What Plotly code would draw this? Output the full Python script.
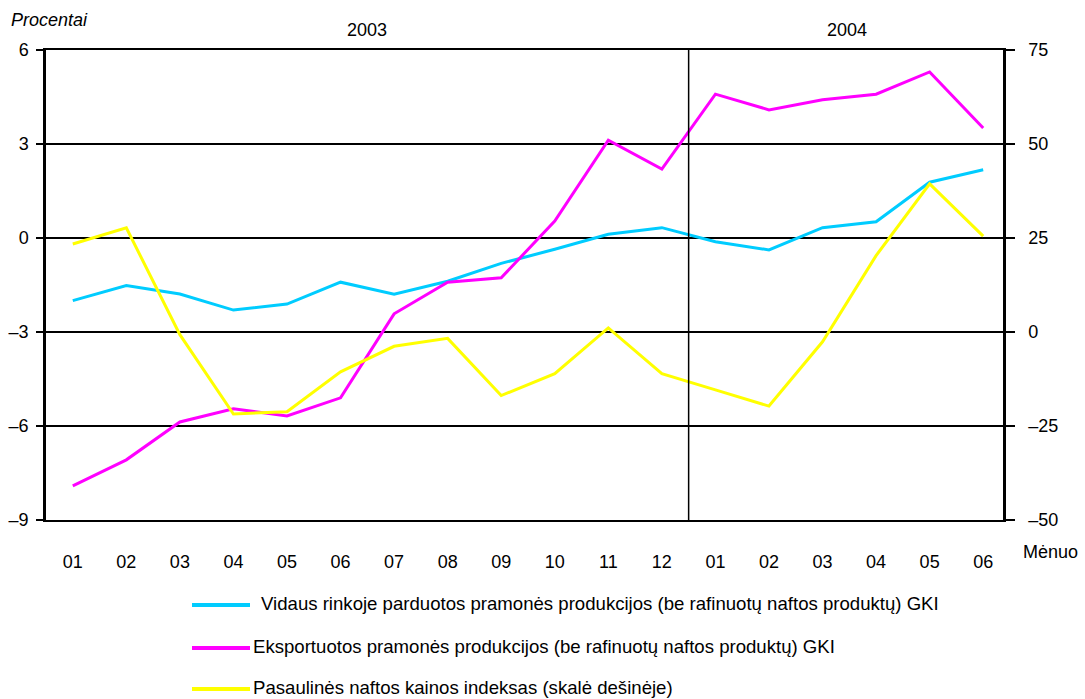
import plotly.graph_objects as go

months = ["01", "02", "03", "04", "05", "06", "07", "08", "09", "10", "11", "12",
          "01", "02", "03", "04", "05", "06"]
years = ["2003", "2004"]

domestic = [-2.0, -1.52, -1.79, -2.30, -2.11, -1.41, -1.79, -1.38, -0.81, -0.36,
            0.12, 0.33, -0.12, -0.38, 0.33, 0.52, 1.78, 2.18]
export = [-7.91, -7.08, -5.87, -5.45, -5.68, -5.10, -2.42, -1.41, -1.27, 0.54,
          3.12, 2.20, 4.59, 4.09, 4.41, 4.59, 5.30, 3.51]
oil = [23.4, 27.7, -0.7, -21.8, -21.2, -10.6, -3.8, -1.7, -16.9, -11.1,
       1.1, -11.1, -15.4, -19.7, -2.6, 20.3, 39.4, 25.5]

names = ["Vidaus rinkoje parduotos pramonės produkcijos (be rafinuotų naftos produktų) GKI",
         "Eksportuotos pramonės produkcijos (be rafinuotų naftos produktų) GKI",
         "Pasaulinės naftos kainos indeksas (skalė dešinėje)"]
colors = ["#00CCFF", "#FF00FF", "#FFFF00"]

left_ticks = [-9, -6, -3, 0, 3, 6]
right_ticks = [-50, -25, 0, 25, 50, 75]

def lab(v):
    return ("–" + str(abs(v))) if v < 0 else str(v)

FONT = "Liberation Sans, Arial, sans-serif"
FS = 18
x = list(range(len(months)))

fig = go.Figure()
fig.add_trace(go.Scatter(x=x, y=domestic, mode="lines", name=names[0],
                         line=dict(color=colors[0], width=3)))
fig.add_trace(go.Scatter(x=x, y=export, mode="lines", name=names[1],
                         line=dict(color=colors[1], width=3)))
fig.add_trace(go.Scatter(x=x, y=oil, mode="lines", name=names[2], yaxis="y2",
                         line=dict(color=colors[2], width=3)))

PL, PR, PT, PB = 46, 1003, 50, 520

def px_x(p):
    return (p - PL) / (PR - PL)

def px_y(p):
    return (PB - p) / (PB - PT)

tf = dict(size=FS, color="black", family=FONT)
lf = dict(size=18.6, color="black", family=FONT)

shapes = [
    dict(type="line", xref="x", yref="paper", x0=11.5, x1=11.5, y0=0, y1=1,
         line=dict(color="black", width=1.5)),
]
annotations = [
    dict(text=years[0], x=5.5, xref="x", xanchor="center", y=px_y(30), yref="paper",
         yanchor="middle", showarrow=False, font=tf),
    dict(text=years[1], x=14.45, xref="x", xanchor="center", y=px_y(30), yref="paper",
         yanchor="middle", showarrow=False, font=tf),
    dict(text="<i>Procentai</i>", x=px_x(9), xanchor="left", xref="paper",
         y=px_y(20), yref="paper", yanchor="middle", showarrow=False, font=tf),
    dict(text="Mėnuo", x=px_x(1021), xanchor="left", xref="paper",
         y=px_y(552), yref="paper", yanchor="middle", showarrow=False, font=tf),
]
leg_y = [605, 648, 689]
leg_tx = [259, 251, 251]
for i in range(3):
    shapes.append(dict(type="line", xref="paper", yref="paper",
                       x0=px_x(192), x1=px_x(250), y0=px_y(leg_y[i]), y1=px_y(leg_y[i]),
                       line=dict(color=colors[i], width=4)))
    annotations.append(dict(text=names[i], x=px_x(leg_tx[i]), xanchor="left", xref="paper",
                            y=px_y(leg_y[i] - 2), yref="paper", yanchor="middle",
                            showarrow=False, font=lf))

fig.update_layout(
    width=1085, height=699,
    margin=dict(l=PL, r=1085 - PR, t=PT, b=699 - PB, autoexpand=False),
    paper_bgcolor="white", plot_bgcolor="white",
    showlegend=False,
    font=dict(family=FONT, size=FS, color="black"),
    xaxis=dict(range=[-0.5, 17.37], tickmode="array", tickvals=x, ticktext=months,
               showgrid=False, zeroline=False, showline=True, mirror=True,
               linecolor="black", linewidth=2, ticks="", ticklabelstandoff=24,
               automargin=False, tickfont=tf),
    yaxis=dict(range=[-9, 6], tickmode="array", tickvals=left_ticks,
               ticktext=[lab(v) for v in left_ticks],
               showgrid=True, gridcolor="black", gridwidth=1.5, zeroline=False,
               showline=True, linecolor="black", linewidth=2.5,
               ticks="outside", ticklen=7, tickcolor="black", tickwidth=1.5,
               ticklabelstandoff=4, automargin=False, tickfont=tf),
    yaxis2=dict(range=[-50, 75], overlaying="y", side="right", tickmode="array",
                tickvals=right_ticks,
                ticktext=["\u00a0\u00a0" + lab(v) for v in right_ticks],
                showgrid=False, zeroline=False, showline=True, linecolor="black",
                linewidth=2.5, ticks="outside", ticklen=9, tickcolor="black",
                tickwidth=1.5, automargin=False, tickfont=tf),
    shapes=shapes,
    annotations=annotations,
)

fig.write_html("out.html", config={"displayModeBar": False},
               post_script="document.body.style.margin='0';")
